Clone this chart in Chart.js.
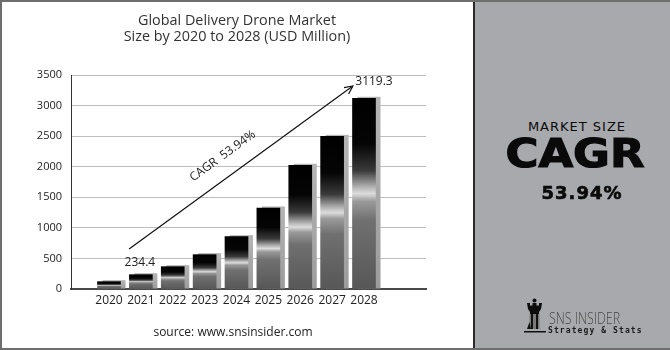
<!DOCTYPE html>
<html>
<head>
<meta charset="utf-8">
<script src="https://cdn.jsdelivr.net/npm/chart.js@4.4.1/dist/chart.umd.min.js"></script>
<style>
  body { margin: 0; background: #fff; }
  #wrap { position: relative; width: 670px; height: 350px; overflow: hidden; background: #fff; font-family: "Open Sans", sans-serif; }
  #chart { position: absolute; left: 0; top: 0; }
  .title { position: absolute; left: 0; top: 12px; width: 474px; text-align: center; font-size: 14.4px; line-height: 16px; color: #333; }
  .source { position: absolute; left: 133px; top: 323px; width: 200px; text-align: center; font-size: 12px; line-height: 18px; color: #222; }
  .panel { position: absolute; left: 473px; top: 0; width: 197px; height: 350px; background: #a8a9ad; border-left: 2px solid #2b2b2b; box-sizing: border-box; }
  .frame { position: absolute; left: 0; top: 0; width: 670px; height: 350px; box-sizing: border-box; border: 2px solid #6e6e6e; border-right: none; pointer-events: none; }
  .ptxt { position: absolute; width: 200px; text-align: center; color: #0a0a0a; white-space: nowrap; }
  .msize { left: 477px; top: 118px; font-family: "DejaVu Sans", sans-serif; font-size: 13px; line-height: 18px; letter-spacing: 1px; }
  .cagr { left: 475px; top: 130px; font-family: "DejaVu Sans", sans-serif; font-weight: bold; font-size: 39px; line-height: 48px; transform: scaleX(1.15); -webkit-text-stroke: 1.2px #0a0a0a; }
  .pct { left: 482px; top: 181px; font-family: "DejaVu Sans", sans-serif; font-weight: bold; font-size: 18px; line-height: 24px; letter-spacing: 1px; -webkit-text-stroke: 0.6px #0a0a0a; }
  .brand { position: absolute; left: 549px; top: 308px; font-family: "Open Sans", sans-serif; font-weight: 300; font-size: 16px; line-height: 20px; color: #4a4a4a; transform: scaleX(0.78); transform-origin: left center; white-space: nowrap; }
  .tag { position: absolute; left: 548px; top: 326px; font-family: "DejaVu Sans Mono", monospace; font-weight: bold; font-size: 8px; line-height: 10px; letter-spacing: 1.1px; color: #1a1a1a; white-space: nowrap; }
  .logo { position: absolute; left: 0; top: 0; }
</style>
</head>
<body>
<div id="wrap">
  <canvas id="chart" width="472" height="350"></canvas>
  <div class="title">Global Delivery Drone Market<br>Size by 2020 to 2028 (USD Million)</div>
  <div class="source">source: www.snsinsider.com</div>
  <div class="panel"></div>
  <div class="ptxt msize">MARKET SIZE</div>
  <div class="ptxt cagr">CAGR</div>
  <div class="ptxt pct">53.94%</div>
  <svg class="logo" width="670" height="350">
    <circle cx="534.5" cy="300.5" r="2" fill="#111"/>
    <path d="M527,303 L530,303 L530,305.5 L532.5,305.5 L532.5,303 L536.5,303 L536.5,305.5 L539,305.5 L539,303 L542,303 L541,309 L539,312 L530,312 L528,309 Z" fill="#0d0d0d"/>
    <rect x="530" y="312" width="9" height="2" fill="#0d0d0d"/>
    <rect x="529.5" y="314" width="10" height="15" fill="#7a7a7a"/>
    <rect x="531" y="314" width="2" height="15" fill="#111"/>
    <rect x="536" y="314" width="2" height="15" fill="#111"/>
    <path d="M529.5,322 L527,329 L531,329 Z" fill="#111"/>
    <rect x="524" y="331" width="22" height="1.5" fill="#111"/>
  </svg>
  <div class="brand">SNS INSIDER</div>
  <div class="tag">Strategy &amp; Stats</div>
  <div class="frame"></div>
</div>
<script>
// Global delivery drone market, USD million
const years = [2020, 2021, 2022, 2023, 2024, 2025, 2026, 2027, 2028];
const marketSize = [120, 234.4, 365, 562, 856, 1325, 2023, 2497, 3119.3];
const barLabels = ['', '234.4', '', '', '', '', '', '', '3119.3'];
const yTicks = [0, 500, 1000, 1500, 2000, 2500, 3000, 3500];
// CAGR arrow, in data units (year, USD million)
const arrowX = [2020.63, 2027.65];
const arrowY = [654, 3320];
const cagrText = 'CAGR  53.94%';

function barGradient(ctx) {
    const chart = ctx.chart;
    const y = chart.scales.y;
    if (!y || !ctx.parsed) return '#333';
    const top = y.getPixelForValue(ctx.parsed.y);
    const bottom = y.getPixelForValue(0);
    if (!isFinite(top) || !isFinite(bottom) || top === bottom) return '#333';
    const g = chart.ctx.createLinearGradient(0, top, 0, bottom);
    g.addColorStop(0, '#000');
    g.addColorStop(0.24, '#050505');
    g.addColorStop(0.38, '#3a3a3a');
    g.addColorStop(0.47, '#b8b8b8');
    g.addColorStop(0.5, '#dcdcdc');
    g.addColorStop(0.54, '#9a9a9a');
    g.addColorStop(0.64, '#707070');
    g.addColorStop(1, '#575757');
    return g;
}

// light grey block behind each bar, labels, arrow head
const barShadow = {
    id: 'barShadow',
    beforeDatasetsDraw(chart) {
        const meta = chart.getDatasetMeta(1);
        const c = chart.ctx;
        c.save();
        meta.data.forEach(bar => {
            const p = bar.getProps(['x', 'y', 'base', 'width'], true);
            if (!isFinite(p.y) || !isFinite(p.base)) return;
            const g = c.createLinearGradient(0, p.y, 0, p.base);
            g.addColorStop(0, '#b4b4b4');
            g.addColorStop(1, '#9c9c9c');
            c.fillStyle = g;
            c.fillRect(p.x - p.width / 2 + 5, p.y - 1.5, p.width, p.base - p.y + 1.5);
        });
        c.restore();
    },
    afterDatasetsDraw(chart) {
        const c = chart.ctx;
        c.save();
        // value labels
        const bars = chart.getDatasetMeta(1).data;
        c.font = '12px "Open Sans"';
        c.fillStyle = '#222';
        c.textAlign = 'center';
        c.textBaseline = 'middle';
        bars.forEach((bar, i) => {
            if (!barLabels[i]) return;
            const last = i === bars.length - 1;
            c.fillText(barLabels[i], bar.x + (last ? 10 : -1), bar.y - (last ? 17 : 12));
        });
        // arrow head + CAGR text
        const pts = chart.getDatasetMeta(0).data;
        const p0 = pts[0], p1 = pts[1];
        const a = Math.atan2(p1.y - p0.y, p1.x - p0.x);
        c.strokeStyle = '#111';
        c.lineWidth = 1.2;
        c.beginPath();
        c.moveTo(p1.x - 9 * Math.cos(a - 0.45), p1.y - 9 * Math.sin(a - 0.45));
        c.lineTo(p1.x, p1.y);
        c.lineTo(p1.x - 9 * Math.cos(a + 0.45), p1.y - 9 * Math.sin(a + 0.45));
        c.stroke();
        const mx = (p0.x + p1.x) / 2, my = (p0.y + p1.y) / 2;
        const nx = Math.sin(a), ny = -Math.cos(a);
        const tx = mx + nx * 20 - 8 * Math.cos(a);
        const ty = my + ny * 20 - 8 * Math.sin(a);
        c.translate(tx, ty);
        c.rotate(a);
        c.fillText(cagrText, 0, 0);
        c.restore();
    }
};

new Chart(document.getElementById('chart'), {
    data: {
        datasets: [
            {
                type: 'line',
                data: arrowX.map((x, i) => ({ x: x, y: arrowY[i] })),
                borderColor: '#111',
                borderWidth: 1.2,
                pointRadius: 0,
                order: 1
            },
            {
                type: 'bar',
                data: years.map((yr, i) => ({ x: yr, y: marketSize[i] })),
                backgroundColor: barGradient,
                barThickness: 23,
                order: 2
            }
        ]
    },
    options: {
        responsive: false,
        devicePixelRatio: 1,
        animation: false,
        layout: { padding: { top: 75, right: 46, left: 0, bottom: 0 } },
        plugins: { legend: { display: false }, tooltip: { enabled: false } },
        scales: {
            x: {
                type: 'linear',
                offset: false,
                min: 2018.808,
                max: 2029.945,
                afterBuildTicks: s => { s.ticks = years.map(v => ({ value: v })); },
                afterFit: s => { s.height = 61; },
                grid: { display: false, drawTicks: false, offset: false },
                border: { display: true, color: '#4a4a4a', width: 2 },
                ticks: {
                    autoSkip: false,
                    maxRotation: 0,
                    padding: 4,
                    color: '#222',
                    font: { family: 'Open Sans', size: 12 },
                    callback: v => String(v)
                }
            },
            y: {
                min: 0,
                max: 3500,
                afterBuildTicks: s => { s.ticks = yTicks.map(v => ({ value: v })); },
                afterFit: s => { s.width = 71; },
                grid: { color: '#bdbdbd', lineWidth: 1, drawTicks: false },
                border: { display: true, color: '#333', width: 1 },
                ticks: {
                    padding: 9,
                    color: '#222',
                    font: { family: 'Open Sans', size: 11 },
                    callback: v => String(v)
                }
            }
        }
    },
    plugins: [barShadow]
});
</script>
</body>
</html>
